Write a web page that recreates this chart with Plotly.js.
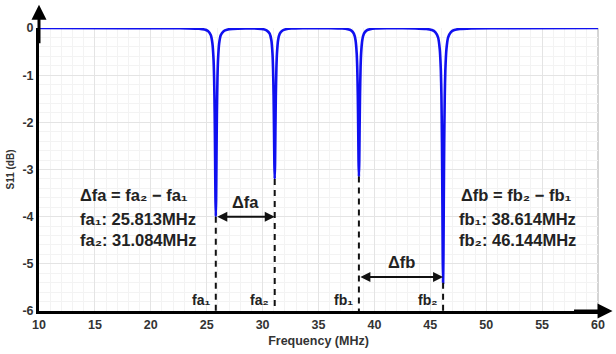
<!DOCTYPE html>
<html><head><meta charset="utf-8">
<script src="https://cdn.plot.ly/plotly-3.0.1.min.js"></script>
<style>html,body{margin:0;padding:0;background:#fff}#chart{width:616px;height:354px}</style>
</head><body><div id="chart"></div>
<script>
// Frequency (MHz) samples
const freq = [10, 18, 22,
  23.313, 24.313, 24.813, 25.113, 25.363, 25.513, 25.613, 25.663, 25.713, 25.753, 25.783, 25.813,
  25.843, 25.873, 25.913, 25.963, 26.013, 26.113, 26.263, 26.513, 26.813, 27.313, 28.45,
  29.584, 30.084, 30.384, 30.634, 30.784, 30.884, 30.934, 30.984, 31.024, 31.054, 31.084,
  31.114, 31.144, 31.184, 31.234, 31.284, 31.384, 31.534, 31.784, 32.084, 32.584, 33.584, 34.85,
  36.114, 37.114, 37.614, 37.914, 38.164, 38.314, 38.414, 38.464, 38.514, 38.554, 38.584, 38.614,
  38.644, 38.674, 38.714, 38.764, 38.814, 38.914, 39.064, 39.314, 39.614, 40.114, 41.114, 42.4,
  43.644, 44.644, 45.144, 45.444, 45.694, 45.844, 45.944, 45.994, 46.044, 46.084, 46.114, 46.144,
  46.174, 46.204, 46.244, 46.294, 46.344, 46.444, 46.594, 46.844, 47.144, 47.644, 48.644, 52, 60];
// S11 (dB) samples
const s11 = [-0.001, -0.002, -0.004,
  -0.007, -0.015, -0.033, -0.066, -0.15, -0.33, -0.67, -1.06, -1.79, -2.77, -3.6, -4.0,
  -3.6, -2.77, -1.79, -1.06, -0.67, -0.33, -0.15, -0.067, -0.035, -0.018, -0.01,
  -0.014, -0.028, -0.054, -0.12, -0.26, -0.54, -0.85, -1.43, -2.22, -2.88, -3.2,
  -2.88, -2.22, -1.43, -0.85, -0.54, -0.26, -0.12, -0.052, -0.026, -0.011, -0.005, -0.006,
  -0.006, -0.012, -0.026, -0.05, -0.12, -0.26, -0.53, -0.83, -1.41, -2.18, -2.84, -3.15,
  -2.84, -2.18, -1.41, -0.83, -0.53, -0.26, -0.12, -0.05, -0.025, -0.011, -0.006, -0.006,
  -0.008, -0.02, -0.043, -0.088, -0.2, -0.45, -0.9, -1.43, -2.42, -3.74, -4.86, -5.4,
  -4.86, -3.74, -2.42, -1.43, -0.9, -0.45, -0.2, -0.088, -0.043, -0.019, -0.008, -0.003, -0.001];

// Resonance markers
const markerNames = ["fa₁", "fa₂", "fb₁", "fb₂"];
const markerFreq = [25.813, 31.084, 38.614, 46.144];
const markerDepth = [-4.0, -3.2, -3.15, -5.4];
const xTicks = [10, 15, 20, 25, 30, 35, 40, 45, 50, 55, 60];
const yTicks = [0, -1, -2, -3, -4, -5, -6];
const spanA = {label: "Δfa", from: 25.813, to: 31.084, level: -4.0};
const spanB = {label: "Δfb", from: 38.614, to: 46.144, level: -5.28};
const textA = ["Δfa = fa₂ − fa₁", "fa₁: 25.813MHz", "fa₂: 31.084MHz"];
const textB = ["Δfb = fb₂ − fb₁", "fb₁: 38.614MHz", "fb₂: 46.144MHz"];

const FONT = "Liberation Sans, Arial, sans-serif";
const shapes = [];
const annotations = [];

markerFreq.forEach((f, i) => {
  shapes.push({type: "line", xref: "x", yref: "y", x0: f, x1: f, y0: markerDepth[i], y1: -6,
    line: {color: "#111", width: 2, dash: "6px,5px"}, layer: "above"});
  annotations.push({x: f, y: -5.76, xref: "x", yref: "y", text: "<b>" + markerNames[i] + "</b>",
    showarrow: false, xanchor: "right", xshift: -4, font: {family: FONT, size: 14, color: "#222"}});
});

[spanA, spanB].forEach(s => {
  annotations.push({x: s.to, y: s.level, ax: s.from, ay: s.level, xref: "x", yref: "y", axref: "x", ayref: "y",
    text: "", showarrow: true, arrowhead: 2, startarrowhead: 2, arrowside: "end+start",
    arrowsize: 1, arrowwidth: 2, arrowcolor: "#111"});
  annotations.push({x: (s.from + s.to) / 2, y: s.level, xref: "x", yref: "y", yshift: 15,
    text: "<b>" + s.label + "</b>", showarrow: false, font: {family: FONT, size: 16.5, color: "#222"}});
});

const textYs = [-3.55, -4.05, -4.5];
textA.forEach((t, i) => annotations.push({x: 0.069, y: textYs[i], xref: "paper", yref: "y",
  xanchor: "left", text: "<b>" + t + "</b>", showarrow: false, font: {family: FONT, size: 16.5, color: "#222"}}));
textB.forEach((t, i) => annotations.push({x: i === 0 ? 0.752 : 0.747, y: textYs[i], xref: "paper", yref: "y",
  xanchor: "left", text: "<b>" + t + "</b>", showarrow: false, font: {family: FONT, size: 16.5, color: "#222"}}));

// axis arrows
annotations.push({x: 0, y: 1.082, xref: "paper", yref: "paper", ax: 0, ay: 40, text: "", showarrow: true,
  arrowhead: 2, arrowsize: 1, arrowwidth: 3, arrowcolor: "#000"});
annotations.push({x: 1.026, y: 0, xref: "paper", yref: "paper", ax: -40, ay: 0, text: "", showarrow: true,
  arrowhead: 2, arrowsize: 1, arrowwidth: 3, arrowcolor: "#000"});

// right border
shapes.push({type: "line", xref: "paper", yref: "paper", x0: 1, x1: 1, y0: 0, y1: 1, line: {color: "#aaa", width: 1}, layer: "below"});

const data = [{x: freq, y: s11, type: "scatter", mode: "lines", line: {color: "#1010f0", width: 2.6, shape: "spline", smoothing: 0.6}, hoverinfo: "skip"}];

const layout = {
  width: 616, height: 354,
  margin: {l: 39, r: 18, t: 28, b: 43},
  paper_bgcolor: "#fff", plot_bgcolor: "#fff",
  showlegend: false,
  xaxis: {range: [10, 60], tickvals: xTicks, ticktext: xTicks.map(v => "<b>" + v + "</b>"),
    showgrid: true, gridcolor: "#e4e4e4", gridwidth: 1,
    minor: {dtick: 1, showgrid: true, gridcolor: "#f3f3f3"},
    showline: true, linecolor: "#000", linewidth: 3, zeroline: false, ticks: "",
    tickfont: {family: FONT, size: 12.5, color: "#333"},
    title: {text: "<b>Frequency (MHz)</b>", font: {family: FONT, size: 12.5, color: "#333"}, standoff: 6}},
  yaxis: {range: [-6, 0], tickvals: yTicks, ticktext: yTicks.map(v => "<b>" + v + "</b>"),
    showgrid: true, gridcolor: "#e4e4e4", gridwidth: 1,
    minor: {dtick: 0.2, showgrid: true, gridcolor: "#f3f3f3"},
    showline: true, linecolor: "#000", linewidth: 3, zeroline: false, ticks: "",
    tickfont: {family: FONT, size: 12.5, color: "#333"},
    title: {text: "<b>S11 (dB)</b>", font: {family: FONT, size: 10, color: "#333"}, standoff: 6}},
  shapes: shapes,
  annotations: annotations
};
Plotly.newPlot("chart", data, layout, {staticPlot: true, displayModeBar: false});
</script></body></html>
